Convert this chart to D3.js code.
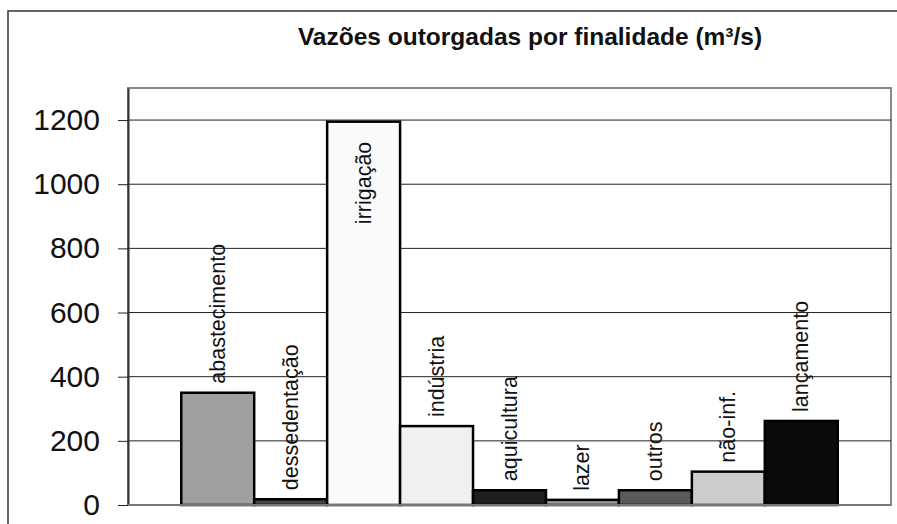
<!DOCTYPE html>
<html><head><meta charset="utf-8">
<script src="https://cdn.jsdelivr.net/npm/d3@7/dist/d3.min.js"></script>
<style>body{margin:0;background:#fff}svg{display:block}text{font-family:"Liberation Sans",Arial,sans-serif}</style>
</head><body><svg id="c" width="897" height="524"></svg>
<script>
const categories = ["abastecimento","dessedentação","irrigação","indústria","aquicultura","lazer","outros","não-inf.","lançamento"];
const values = [350, 18, 1195, 246, 46, 16, 46, 104, 262];
const colors = ["#a0a0a0","#444444","#fafafa","#f0f0f0","#1e1e1e","#999999","#5a5a5a","#cccccc","#0a0a0a"];
const yTicks = [0,200,400,600,800,1000,1200];
const title = "Vazões outorgadas por finalidade (m³/s)";

const svg = d3.select("#c");
const L = 128, R = 891, T = 88, B = 505;
svg.append("rect").attr("x",8).attr("y",11).attr("width",950).attr("height",600)
  .attr("fill","#fff").attr("stroke","#333").attr("stroke-width",1.5);
svg.append("text").attr("x",530).attr("y",45).attr("text-anchor","middle")
  .attr("font-size",24.5).attr("font-weight","bold").attr("fill","#111").text(title);

const y = d3.scaleLinear().domain([0,1300]).range([B,T]);
const x = d3.scaleBand().domain(categories).range([L,R]).paddingInner(0).paddingOuter(0.73);

// plot area border
svg.append("rect").attr("x",L).attr("y",T).attr("width",R-L).attr("height",B-T)
  .attr("fill","#fff").attr("stroke","#888").attr("stroke-width",2);
// gridlines
svg.append("g").selectAll("line").data(yTicks.filter(d=>d>0)).join("line")
  .attr("x1",L).attr("x2",R).attr("y1",d=>y(d)).attr("y2",d=>y(d))
  .attr("stroke","#222").attr("stroke-width",1);

const ax = svg.append("g").attr("transform",`translate(${L},0)`)
  .call(d3.axisLeft(y).tickValues(yTicks).tickFormat(d3.format("d")).tickSize(10).tickPadding(18).tickSizeOuter(0));
ax.select(".domain").attr("stroke","#333").attr("stroke-width",2);
ax.selectAll(".tick line").attr("stroke","#222");
ax.selectAll(".tick text").attr("font-size",30).attr("fill","#111")
  .attr("font-family","Liberation Sans, Arial, sans-serif");

// bars
svg.append("g").selectAll("rect").data(categories).join("rect")
  .attr("x",d=>x(d)).attr("width",x.bandwidth())
  .attr("y",(d,i)=>y(values[i])).attr("height",(d,i)=>B-y(values[i]))
  .attr("fill",(d,i)=>colors[i]).attr("stroke","#000").attr("stroke-width",2.5);

// baseline
svg.append("line").attr("x1",L).attr("x2",R).attr("y1",B).attr("y2",B)
  .attr("stroke","#777").attr("stroke-width",2);

// labels
const lab = svg.append("g").selectAll("text").data(categories).join("text")
  .attr("font-size",21.5).attr("fill","#111").text(d=>d);
lab.each(function(d,i){
  const t = d3.select(this);
  const len = this.getComputedTextLength();
  const cx = x(d) + x.bandwidth()/2 + 7;
  let yy = y(values[i]) - 9, anchor = "start";
  if (yy - len < T) { yy = y(values[i]) + 20; anchor = "end"; }
  t.attr("text-anchor",anchor).attr("transform",`translate(${cx},${yy}) rotate(-90)`);
});
</script></body></html>
